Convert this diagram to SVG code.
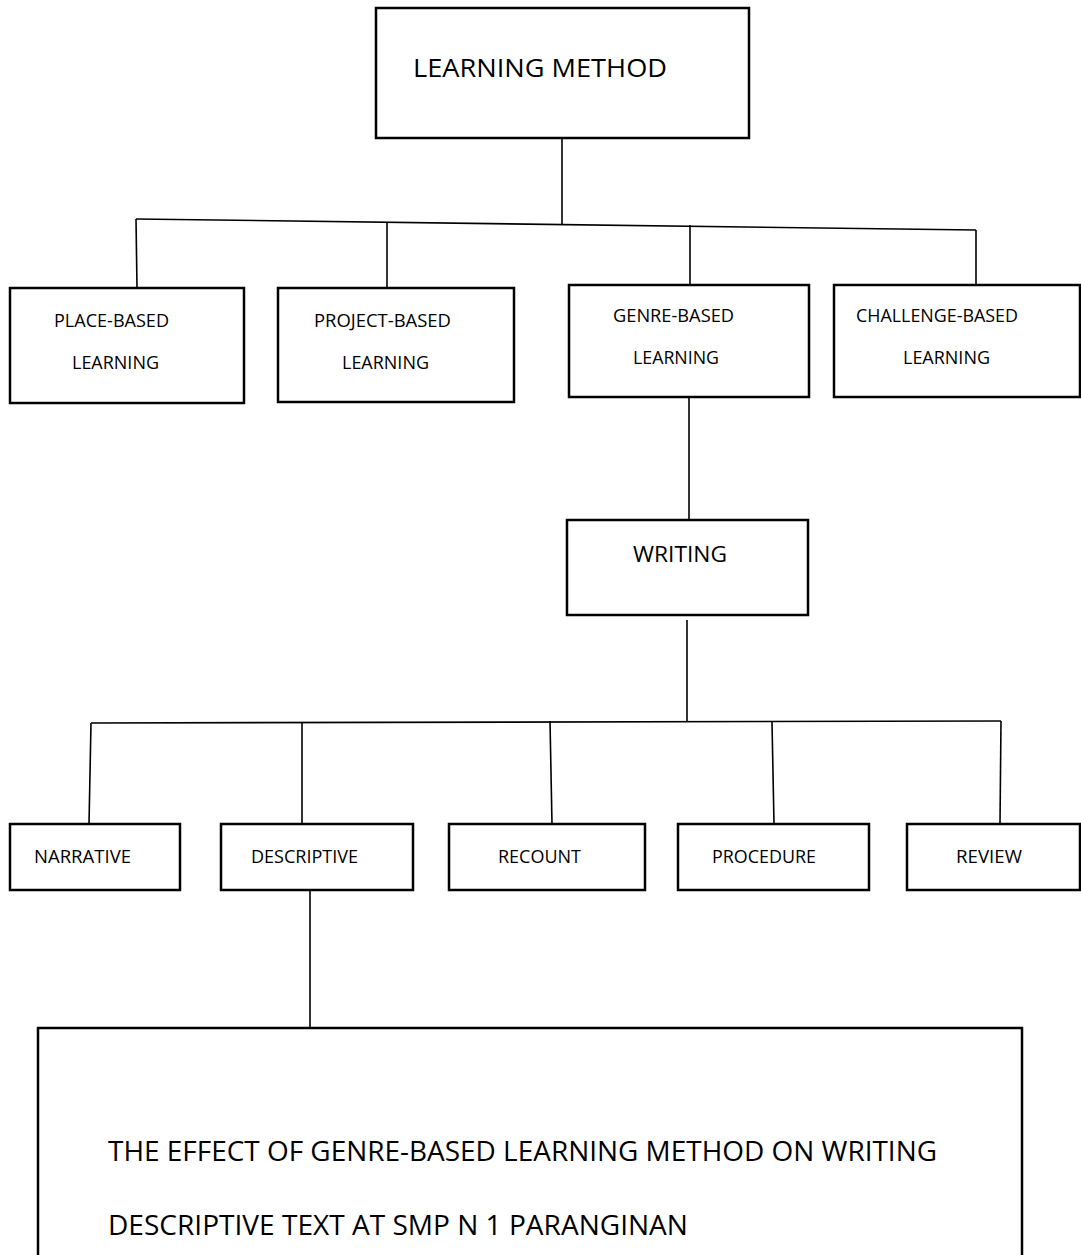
<svg xmlns="http://www.w3.org/2000/svg" width="1081" height="1255" viewBox="0 0 1081 1255">
<style>
.box{fill:#fff;stroke:#000;stroke-width:2.5}
.t{font-family:"Open Sans","Liberation Sans",sans-serif;fill:#000}
.s{font-size:18px}
.m{font-size:18px}
.c{stroke:#000;stroke-width:1.6;fill:none}
</style>
<rect width="1081" height="1255" fill="#fff"/>
<g id="connectors">
<line class="c" x1="136" y1="219" x2="976" y2="230"/>
<line class="c" x1="136" y1="219" x2="137" y2="287"/>
<line class="c" x1="387" y1="222" x2="387" y2="287"/>
<line class="c" x1="562" y1="137" x2="562" y2="224"/>
<line class="c" x1="690" y1="225" x2="690" y2="285"/>
<line class="c" x1="976" y1="230" x2="976" y2="285"/>
<line class="c" x1="689" y1="397" x2="689" y2="520"/>
<line class="c" x1="687" y1="620" x2="687" y2="722"/>
<line class="c" x1="91" y1="723" x2="1001" y2="721"/>
<line class="c" x1="91" y1="723" x2="89" y2="824"/>
<line class="c" x1="302" y1="723" x2="302" y2="824"/>
<line class="c" x1="550" y1="721" x2="552" y2="824"/>
<line class="c" x1="772" y1="722" x2="774" y2="824"/>
<line class="c" x1="1001" y1="721" x2="1000" y2="824"/>
<line class="c" x1="310" y1="890" x2="310" y2="1028"/>
</g>
<g id="learning-method">
<rect class="box" x="376" y="8" width="373" height="130"/>
<text class="t" x="413" y="77" font-size="26" textLength="254" lengthAdjust="spacingAndGlyphs">LEARNING METHOD</text>
</g>
<g id="place-based">
<rect class="box" x="10" y="288" width="234" height="115"/>
<text class="t s" x="54" y="327" textLength="115" lengthAdjust="spacingAndGlyphs">PLACE-BASED</text>
<text class="t s" x="72" y="369" textLength="87" lengthAdjust="spacingAndGlyphs">LEARNING</text>
</g>
<g id="project-based">
<rect class="box" x="278" y="288" width="236" height="114"/>
<text class="t s" x="314" y="327" textLength="137" lengthAdjust="spacingAndGlyphs">PROJECT-BASED</text>
<text class="t s" x="342" y="369" textLength="87" lengthAdjust="spacingAndGlyphs">LEARNING</text>
</g>
<g id="genre-based">
<rect class="box" x="569" y="285" width="240" height="112"/>
<text class="t s" x="613" y="322" textLength="121" lengthAdjust="spacingAndGlyphs">GENRE-BASED</text>
<text class="t s" x="633" y="364" textLength="86" lengthAdjust="spacingAndGlyphs">LEARNING</text>
</g>
<g id="challenge-based">
<rect class="box" x="834" y="285" width="246" height="112"/>
<text class="t s" x="856" y="322" textLength="162" lengthAdjust="spacingAndGlyphs">CHALLENGE-BASED</text>
<text class="t s" x="903" y="364" textLength="87" lengthAdjust="spacingAndGlyphs">LEARNING</text>
</g>
<g id="writing">
<rect class="box" x="567" y="520" width="241" height="95"/>
<text class="t" x="633" y="562" font-size="21" textLength="94" lengthAdjust="spacingAndGlyphs">WRITING</text>
</g>
<g id="narrative">
<rect class="box" x="10" y="824" width="170" height="66"/>
<text class="t m" x="34" y="863" textLength="97" lengthAdjust="spacingAndGlyphs">NARRATIVE</text>
</g>
<g id="descriptive">
<rect class="box" x="221" y="824" width="192" height="66"/>
<text class="t m" x="251" y="863" textLength="107" lengthAdjust="spacingAndGlyphs">DESCRIPTIVE</text>
</g>
<g id="recount">
<rect class="box" x="449" y="824" width="196" height="66"/>
<text class="t m" x="498" y="863" textLength="83" lengthAdjust="spacingAndGlyphs">RECOUNT</text>
</g>
<g id="procedure">
<rect class="box" x="678" y="824" width="191" height="66"/>
<text class="t m" x="712" y="863" textLength="104" lengthAdjust="spacingAndGlyphs">PROCEDURE</text>
</g>
<g id="review">
<rect class="box" x="907" y="824" width="173" height="66"/>
<text class="t m" x="956" y="863" textLength="66" lengthAdjust="spacingAndGlyphs">REVIEW</text>
</g>
<g id="title">
<rect class="box" x="38" y="1028" width="984" height="240"/>
<text class="t" x="108" y="1161" font-size="27" textLength="829" lengthAdjust="spacingAndGlyphs">THE EFFECT OF GENRE-BASED LEARNING METHOD ON WRITING</text>
<text class="t" x="108" y="1235" font-size="27" textLength="580" lengthAdjust="spacingAndGlyphs">DESCRIPTIVE TEXT AT SMP N 1 PARANGINAN</text>
</g>
</svg>
